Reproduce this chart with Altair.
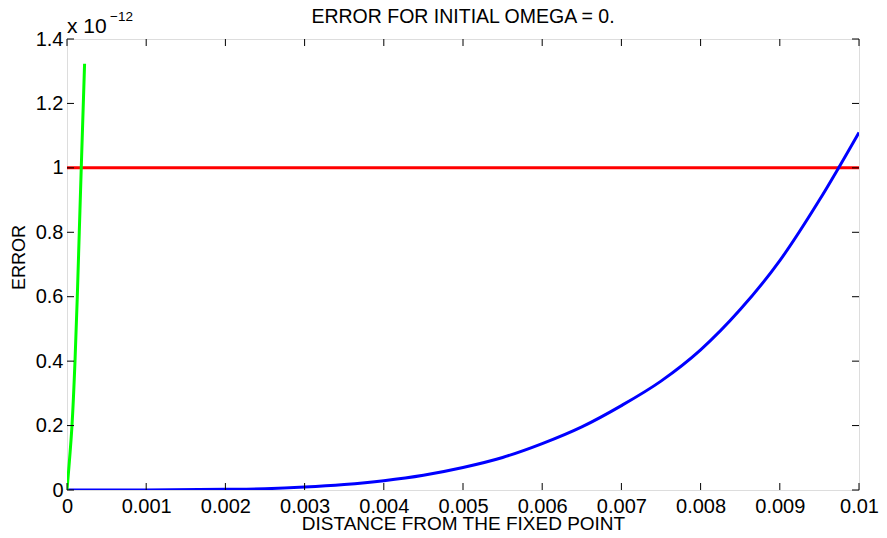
import altair as alt
import pandas as pd

# ---- data (y in units of 1e-12) ----
blue_x = [0, 0.001, 0.002, 0.0025, 0.003, 0.0035, 0.004, 0.0045, 0.005, 0.0055,
          0.006, 0.0065, 0.007, 0.0075, 0.008, 0.0085, 0.009, 0.0095, 0.01]
blue_y = [0, 0.0001, 0.002, 0.004, 0.009, 0.017, 0.029, 0.046, 0.070, 0.101,
          0.144, 0.196, 0.262, 0.338, 0.435, 0.56, 0.712, 0.90, 1.11]

green_x = [0, 0.000017, 0.00004, 0.000063, 0.000101, 0.00013, 0.000155, 0.00018, 0.000222]
green_y = [0, 0.05, 0.12, 0.20, 0.40, 0.60, 0.80, 1.00, 1.323]

red_x = [0, 0.01]
red_y = [1, 1]

x_ticks = [0, 0.001, 0.002, 0.003, 0.004, 0.005, 0.006, 0.007, 0.008, 0.009, 0.01]
y_ticks = [0, 0.2, 0.4, 0.6, 0.8, 1.0, 1.2, 1.4]

TITLE = "ERROR FOR INITIAL OMEGA = 0."
X_TITLE = "DISTANCE FROM THE FIXED POINT"
Y_TITLE = "ERROR"
EXP_BASE = "x 10"
EXP_POW = "\u221212"

# ---- layout / style ----
W, H = 792, 451
FONT = "Liberation Sans"
TICK = 7

xs = alt.Scale(domain=[0, 0.01], nice=False, zero=False)
ys = alt.Scale(domain=[0, 1.4], nice=False, zero=False)

xaxis = alt.Axis(
    title=X_TITLE, values=x_ticks, ticks=False, domain=False, grid=False,
    labelExpr="format(datum.value, '~g')", labelFont=FONT, labelFontSize=20,
    labelColor="black", labelPadding=6, labelFlush=False, labelOverlap=False,
    titleFont=FONT, titleFontSize=19, titleFontWeight="normal", titleColor="black",
    titleBaseline="alphabetic", titleY=39,
)
yaxis = alt.Axis(
    title=Y_TITLE, values=y_ticks, ticks=False, domain=False, grid=False,
    labelExpr="format(datum.value, '~g')", labelFont=FONT, labelFontSize=20,
    labelColor="black", labelPadding=4, labelFlush=False, labelOverlap=False,
    labelBaseline="middle",
    titleFont=FONT, titleFontSize=18, titleFontWeight="normal", titleColor="black",
    titleBaseline="alphabetic", titleX=-43, titleY=218, titleAngle=270,
)

blue_df = pd.DataFrame({"x": blue_x, "y": blue_y})
green_df = pd.DataFrame({"x": green_x, "y": green_y})
red_df = pd.DataFrame({"x": red_x, "y": red_y})
xt_df = pd.DataFrame({"v": x_ticks})
yt_df = pd.DataFrame({"v": y_ticks})


def curve(df, color, width):
    return alt.Chart(df).mark_line(
        color=color, strokeWidth=width, clip=True, interpolate="monotone"
    ).encode(
        x=alt.X("x:Q", scale=xs, axis=xaxis),
        y=alt.Y("y:Q", scale=ys, axis=yaxis),
    )


red = curve(red_df, "#ff0000", 3)
blue = curve(blue_df, "#0000ff", 3)
green = curve(green_df, "#00ff00", 3)

tick_style = dict(color="black", strokeWidth=1)
bottom_ticks = alt.Chart(xt_df).mark_rule(**tick_style).encode(
    x=alt.X("v:Q", scale=xs, axis=xaxis), y=alt.value(H), y2=alt.value(H - TICK))
top_ticks = alt.Chart(xt_df).mark_rule(**tick_style).encode(
    x=alt.X("v:Q", scale=xs, axis=xaxis), y=alt.value(0), y2=alt.value(TICK))
left_ticks = alt.Chart(yt_df).mark_rule(**tick_style).encode(
    y=alt.Y("v:Q", scale=ys, axis=yaxis), x=alt.value(0), x2=alt.value(TICK))
right_ticks = alt.Chart(yt_df).mark_rule(**tick_style).encode(
    y=alt.Y("v:Q", scale=ys, axis=yaxis), x=alt.value(W), x2=alt.value(W - TICK))

title_mark = alt.Chart(pd.DataFrame({"t": [TITLE]})).mark_text(
    font=FONT, fontSize=19.5, align="center", baseline="alphabetic", color="black"
).encode(text="t:N", x=alt.value(W / 2), y=alt.value(-16))
exp_base = alt.Chart(pd.DataFrame({"t": [EXP_BASE]})).mark_text(
    font=FONT, fontSize=21, align="left", baseline="alphabetic", color="black"
).encode(text="t:N", x=alt.value(0), y=alt.value(-6))
exp_pow = alt.Chart(pd.DataFrame({"t": [EXP_POW]})).mark_text(
    font=FONT, fontSize=13.5, align="left", baseline="alphabetic", color="black"
).encode(text="t:N", x=alt.value(43), y=alt.value(-18))

chart = alt.layer(
    red, blue, green, bottom_ticks, top_ticks, left_ticks, right_ticks,
    title_mark, exp_base, exp_pow
).properties(
    width=W, height=H,
    autosize=alt.AutoSizeParams(type="none"),
    padding={"left": 59, "top": 31, "right": 20, "bottom": 40},
).configure_view(
    stroke="black", strokeWidth=1
).configure(background="white")

chart.save("out.html", embed_options={"renderer": "svg", "actions": False})
